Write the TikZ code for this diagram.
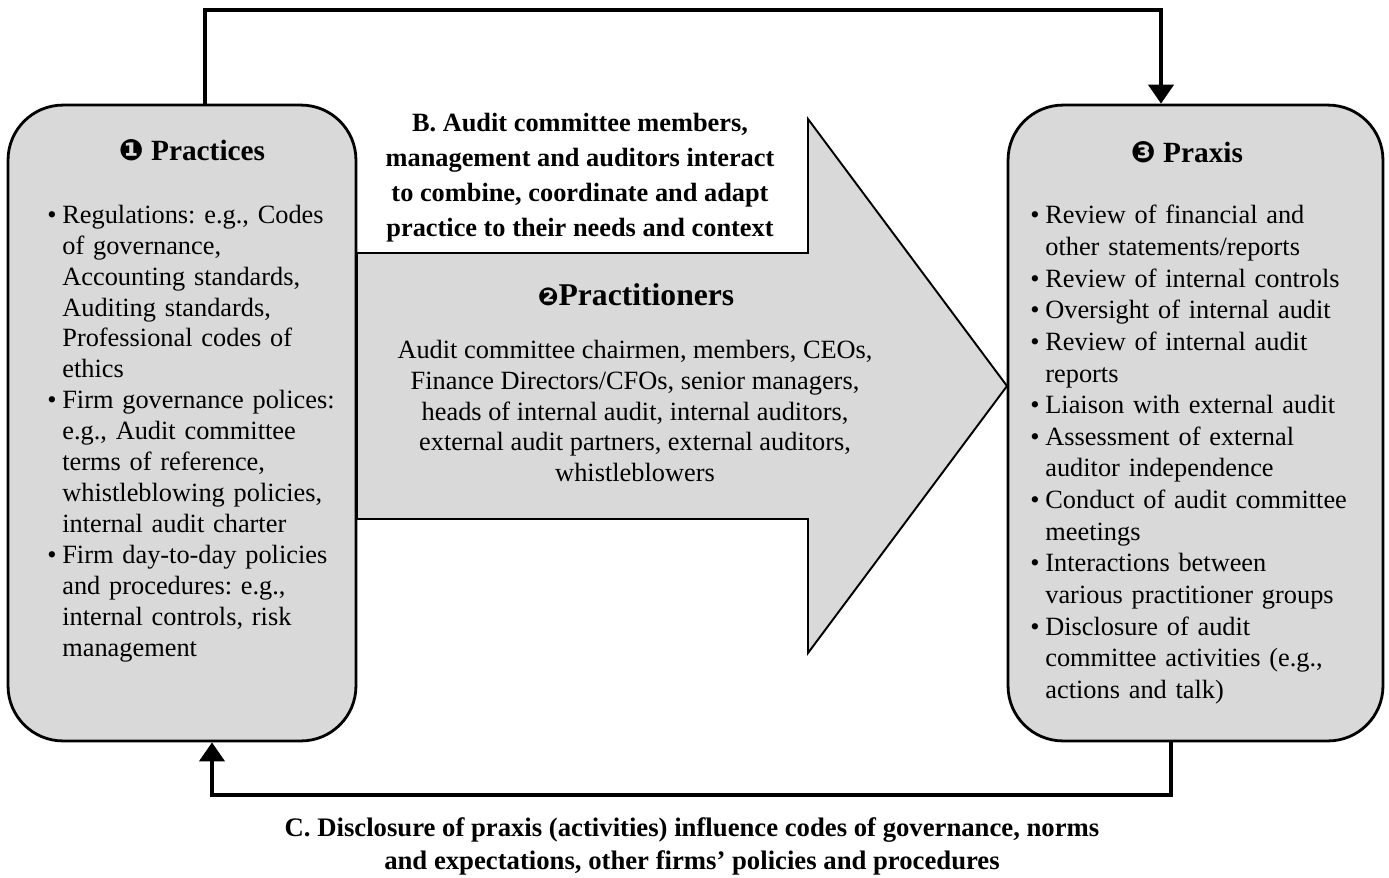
\documentclass[tikz,border=0pt]{standalone}
\usepackage{fontspec}
\setmainfont{Liberation Serif}
\newfontfamily\dingfont{DejaVu Sans}
\usetikzlibrary{arrows.meta}
\newcommand{\itm}{\par\hangindent=0.3cm\hangafter=1\noindent\makebox[0.3cm][l]{\textbullet}}
\begin{document}
\begin{tikzpicture}[x=0.02cm,y=-0.02cm,
    box/.style={draw,line width=1.6pt,fill=black!15,rounded corners=1.1cm},
    link/.style={line width=2.3pt,-{Triangle[width=0.5cm,length=0.38cm]}},
    title/.style={font=\fontsize{16.7}{20}\selectfont\bfseries,inner sep=0pt},
    list/.style={font=\fontsize{15}{17.6}\selectfont\frenchspacing,align=left,inner sep=0pt,anchor=north west},
    note/.style={font=\fontsize{15}{19.9}\selectfont\bfseries\frenchspacing,align=center,inner sep=0pt}]
    \useasboundingbox (0,0) rectangle (1389,877);

    \draw[line width=1.1pt,fill=black!15] (357,253) -- (808,253) -- (808,119) -- (1007,386)
      -- (808,653) -- (808,519) -- (357,519) -- cycle;

    \node[box,minimum width=6.96cm,minimum height=12.72cm] (practices) at (182,423) {};
    \node[box,minimum width=7.5cm,minimum height=12.72cm] (praxis) at (1195.5,423) {};

    \node[title] (practicesT) at (192,150) {{\dingfont ❶} Practices};
    \node[title] (praxisT) at (1187,152) {{\dingfont ❸} Praxis};

    \node[list,text width=6.1cm] (practicesL) at (47,192) {%
      \itm Regulations: e.g., Codes\newline of governance,\newline Accounting standards,\newline
        Auditing standards,\newline Professional codes of\newline ethics
      \itm Firm governance polices:\newline e.g., Audit committee\newline terms of reference,\newline
        whistleblowing policies,\newline internal audit charter
      \itm Firm day-to-day policies\newline and procedures: e.g.,\newline internal controls, risk\newline
        management\par};
    \node[list,text width=6.9cm,font=\fontsize{15}{18}\selectfont\frenchspacing] (praxisL) at (1030,192) {%
      \itm Review of financial and\newline other statements/reports
      \itm Review of internal controls
      \itm Oversight of internal audit
      \itm Review of internal audit\newline reports
      \itm Liaison with external audit
      \itm Assessment of external\newline auditor independence
      \itm Conduct of audit committee\newline meetings
      \itm Interactions between\newline various practitioner groups
      \itm Disclosure of audit\newline committee activities (e.g.,\newline actions and talk)\par};

    \node[note] (interact) at (580,178) {B. Audit committee members,\\ management and auditors interact\\
      to combine, coordinate and adapt\\ practice to their needs and context};
    \node[font=\fontsize{18}{21}\selectfont\bfseries,inner sep=0pt] (practitionersT) at (636,295)
      {{\dingfont\fontsize{14}{14}\selectfont ❷}Practitioners};
    \node[font=\fontsize{15}{17.6}\selectfont,align=center,inner sep=0pt] (practitioners) at (635,411)
      {Audit committee chairmen, members, CEOs,\\ Finance Directors/CFOs, senior managers,\\
      heads of internal audit, internal auditors,\\ external audit partners, external auditors,\\ whistleblowers};
    \node[note,font=\fontsize{15.2}{18.8}\selectfont\bfseries] (feedback) at (692,846)
      {C. Disclosure of praxis (activities) influence codes of governance, norms\\
      and expectations, other firms’ policies and procedures};

    \coordinate (toprail) at (0,10);
    \coordinate (botrail) at (0,795);
    \coordinate (out1) at ([xshift=0.46cm]practices.north);
    \coordinate (in1) at ([xshift=-0.69cm]praxis.north);
    \coordinate (out2) at ([xshift=-0.49cm]praxis.south);
    \coordinate (in2) at ([xshift=0.6cm]practices.south);
    \draw[link] (out1) |- (toprail -| in1) -- (in1);
    \draw[link] (out2) |- (botrail -| in2) -- (in2);
  \end{tikzpicture}
\end{document}
